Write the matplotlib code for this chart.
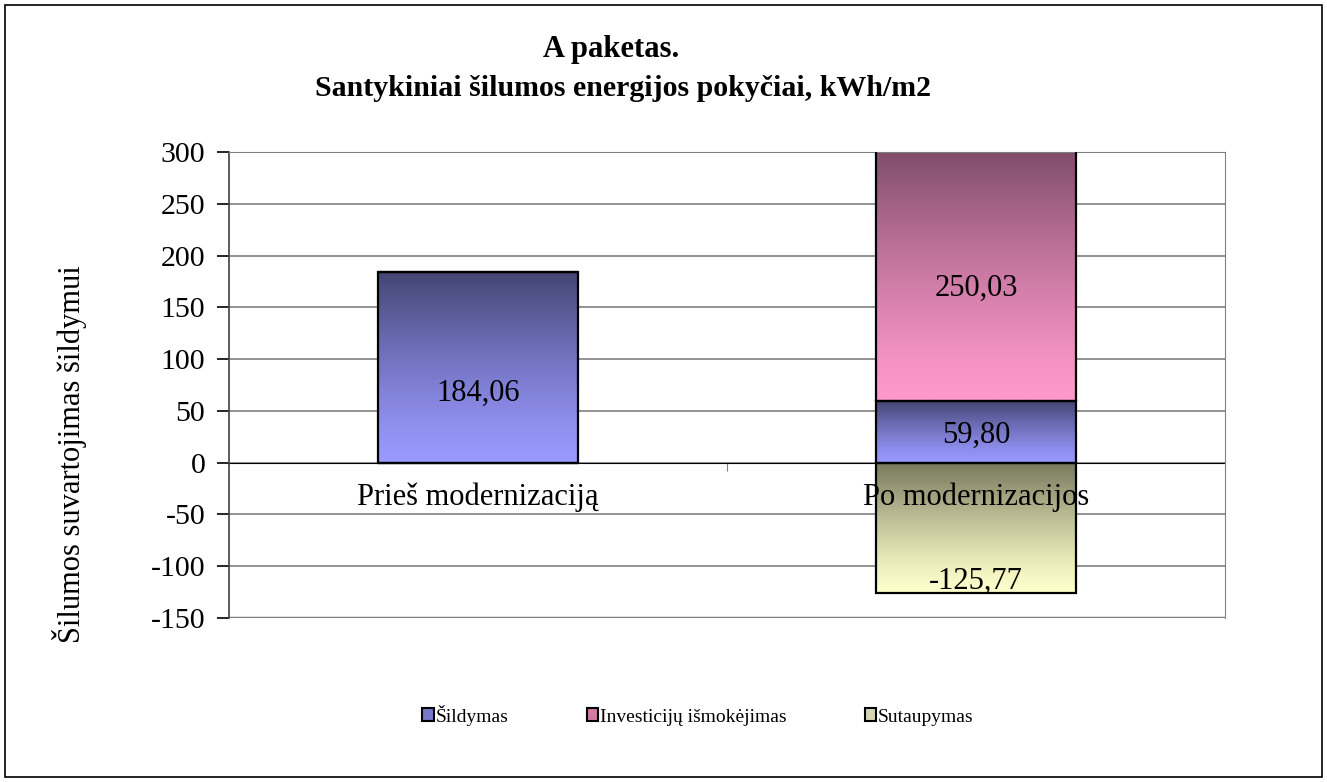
import numpy as np
import matplotlib
matplotlib.use("Agg")
import matplotlib.pyplot as plt
from matplotlib.colors import LinearSegmentedColormap
from matplotlib.patches import Patch, Rectangle

plt.rcParams["font.family"] = ["Liberation Serif", "DejaVu Serif"]

# data
categories = ["Prieš modernizaciją", "Po modernizacijos"]
series_names = ["Šildymas", "Investicijų išmokėjimas", "Sutaupymas"]
sildymas = [184.06, 59.80]
investicijos = [0, 250.03]
sutaupymas = [0, -125.77]
labels_text = ["184,06", "59,80", "250,03", "-125,77"]
# where the value labels sit (data units)
labels_y = [67.3, 26.7, 168.7, -115.0]
yticks = np.arange(-150, 301, 50)

# gradient colours: (bottom light, top dark)
grad = {
    "Šildymas": ("#9999ff", "#444573"),
    "Investicijų išmokėjimas": ("#ff99cc", "#7a4a66"),
    "Sutaupymas": ("#ffffcc", "#77775c"),
}
legend_col = {"Šildymas": "#7777cc", "Investicijų išmokėjimas": "#d07aa4",
              "Sutaupymas": "#d6d6b0"}

fig = plt.figure(figsize=(13.27, 7.82), dpi=100)
ax = fig.add_axes([229 / 1327, 1 - 618 / 782, 996 / 1327, 466 / 782])

x = np.arange(len(categories))
w = 0.402
b1 = ax.bar(x, sildymas, w, color="none", edgecolor="black", linewidth=1.6, zorder=3)
b2 = ax.bar(x, investicijos, w, bottom=sildymas, color="none", edgecolor="black",
            linewidth=1.6, zorder=3)
b3 = ax.bar(x, sutaupymas, w, color="none", edgecolor="black", linewidth=1.6, zorder=3)


def fill_gradient(patch, lo, hi):
    h = patch.get_height()
    if h == 0:
        return
    cmap = LinearSegmentedColormap.from_list("g", [lo, hi])
    y0 = patch.get_y()
    y1 = y0 + h
    ylo, yhi = min(y0, y1), max(y0, y1)
    img = (np.linspace(0, 1, 256) ** 1.3).reshape(-1, 1)
    ax.imshow(img, cmap=cmap, origin="lower", aspect="auto",
              extent=(patch.get_x(), patch.get_x() + patch.get_width(), ylo, yhi),
              zorder=2, interpolation="bicubic", vmin=0, vmax=1)


for bars, name in zip([b1, b2, b3], series_names):
    for p in bars:
        fill_gradient(p, *grad[name])

ax.set_xlim(-0.5, 1.5)
ax.set_ylim(-150, 300)
ax.set_yticks(yticks)
ax.set_yticklabels([str(v) for v in yticks])
ax.tick_params(axis="y", labelsize=21.5, length=9, width=1.2, direction="out", pad=8)
ax.yaxis.grid(True, color="#808080", linewidth=1.2)
ax.set_axisbelow(True)

# category axis crosses at zero
ax.spines["bottom"].set_position(("data", 0))
ax.spines["bottom"].set_color("black")
ax.spines["bottom"].set_zorder(1)
ax.set_xticks([0.5])
ax.set_xticklabels([""])
ax.tick_params(axis="x", length=6, direction="out", color="#808080")
for s in ["top", "right"]:
    ax.spines[s].set_color("#808080")
ax.spines["left"].set_color("#404040")
ax.spines["left"].set_linewidth(1.2)
ax.axhline(-150, color="#808080", linewidth=2.5, zorder=1)

for i, cat in enumerate(categories):
    ax.text(x[i], -33.5, cat, ha="center", va="center", fontsize=22, zorder=6)

label_x = [x[0], x[1], x[1], x[1]]
for lx, ly, t in zip(label_x, labels_y, labels_text):
    ax.text(lx, ly, t, ha="center", va="center", fontsize=22, zorder=6)

fig.text(70 / 1327, 1 - 454 / 782, "Šilumos suvartojimas šildymui", rotation=90,
         ha="center", va="center", fontsize=22)

fig.text(611 / 1327, 1 - 50 / 782, "A paketas.", ha="center", va="center",
         fontsize=22, fontweight="bold")
fig.text(623 / 1327, 1 - 88 / 782, "Santykiniai šilumos energijos pokyčiai, kWh/m2",
         ha="center", va="center", fontsize=21.5, fontweight="bold")

handles = [Patch(facecolor=legend_col[n], edgecolor="black", linewidth=1.5)
           for n in series_names]
fig.legend(handles, series_names, loc="center", bbox_to_anchor=(698 / 1327, 1 - 715 / 782),
           ncol=3, frameon=False, fontsize=14, handlelength=0.6, handleheight=0.6,
           handletextpad=0.1, columnspacing=4.0)

fig.patches.append(Rectangle((5 / 1327, 5 / 782), 1317 / 1327, 772 / 782,
                             transform=fig.transFigure, fill=False,
                             edgecolor="black", linewidth=1.2))

fig.savefig("out.png", dpi=100)
